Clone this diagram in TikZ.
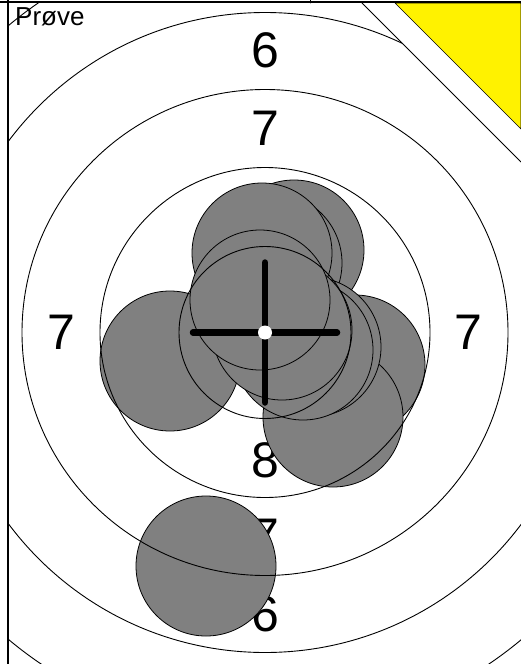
\documentclass[tikz,border=0pt]{standalone}
\usepackage{fontspec}
\setmainfont{Liberation Sans}
\begin{document}
\begin{tikzpicture}[x=1pt, y=-1pt, line cap=round, line join=round,
    ring/.style={draw=black, line width=0.9pt},
    shot/.style={circle, fill=black!50, draw=black, line width=0.8pt,
        minimum size=140pt, inner sep=0pt},
    score/.style={font=\fontsize{50}{50}\selectfont, inner sep=0pt},
    crossarm/.style={line width=6.5pt, line cap=round}]

    \useasboundingbox (0,0) rectangle (521,664);
    \coordinate (centre) at (265,332.5);

    % ------------------------------------------------------------------
    % 1. Ring scores and sheet title
    % ------------------------------------------------------------------
    \node[score] (six top)    at (265.5,50.5) {6};
    \node[score] (seven top)  at (265.5,128.7) {7};
    \node[score] (seven left) at (61.5,332) {7};
    \node[score] (seven right) at (468,332) {7};
    \node[score] (eight bottom) at (265,460) {8};
    \node[score] (seven bottom) at (265,536) {7};
    \node[score] (six bottom) at (265,614) {6};

    \node[font=\fontsize{26}{26}\selectfont, anchor=base west, inner sep=0pt]
        (title) at (15,25) {Prøve};

    % ------------------------------------------------------------------
    % 2. Shot holes (drawn in firing order, later ones on top)
    % ------------------------------------------------------------------
    \foreach \sx/\sy [count=\i] in {294/250, 272/263, 262/253, 170/361,
        355/365, 333/417, 311/347, 303/350, 282/330, 260/300, 206/566}
        \node[shot] (shot\i) at (\sx,\sy) {};

    % ------------------------------------------------------------------
    % 3. Target rings, kept inside the sheet
    % ------------------------------------------------------------------
    \begin{scope}
        \clip (8,3) rectangle (521,664);
        \foreach \r in {86,165,243,320,400}
            \draw[ring] (centre) circle (\r);
    \end{scope}

    % ------------------------------------------------------------------
    % 4. Aiming cross
    % ------------------------------------------------------------------
    \draw[crossarm] (centre) ++(-72,0) -- ++(144,0);
    \draw[crossarm] (centre) ++(0,-70) -- ++(0,140);
    \fill[white] (centre) circle (7);

    % ------------------------------------------------------------------
    % 5. Cut corner with the yellow flag
    % ------------------------------------------------------------------
    \fill[white] (359,0) -- (521,162) -- (521,0) -- cycle;
    \draw[line width=0.9pt] (362,3) -- (521,162);
    \filldraw[fill=yellow, draw=black, line width=0.6pt]
        (395,3) -- (521,129) -- (521,3) -- cycle;

    % ------------------------------------------------------------------
    % 6. Sheet edges
    % ------------------------------------------------------------------
    \draw[line width=1.3pt] (0,2) -- (521,2);
    \draw[line width=0.8pt] (310,0) -- (310,3);
    \draw[line width=1.3pt] (8,0) -- (8,664);

\end{tikzpicture}
\end{document}
